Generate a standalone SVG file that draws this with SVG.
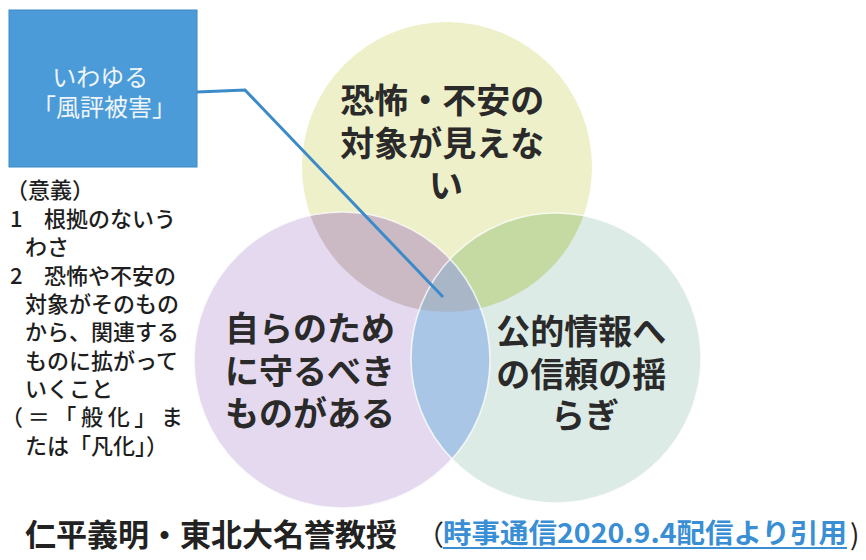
<svg xmlns="http://www.w3.org/2000/svg" width="866" height="560" viewBox="0 0 866 560">
<style>
.jp{font-family:"Noto Sans CJK JP","Noto Sans CJK SC",sans-serif;}
.lbl{font-family:"Noto Sans CJK JP","Noto Sans CJK SC",sans-serif;font-size:34px;font-weight:700;fill:#2a2a2a;}
.note{font-family:"Noto Sans CJK JP","Noto Sans CJK SC",sans-serif;font-size:22px;font-weight:500;fill:#1e1e1e;}
.edge{fill:none;stroke:#ffffff;stroke-width:1.6;stroke-opacity:0.75;}
</style>
<defs>
<clipPath id="cT"><circle cx="447" cy="167" r="145"/></clipPath>
<clipPath id="cL"><circle cx="342" cy="360" r="148"/></clipPath>
<clipPath id="cR"><circle cx="556" cy="358" r="145"/></clipPath>
</defs>
<rect width="866" height="560" fill="#ffffff"/>

<g id="node-fear">
<circle cx="447" cy="167" r="145" fill="#eef0c9"/>
</g>
<g id="node-protect">
<circle cx="342" cy="360" r="148" fill="#e4d9ee"/>
</g>
<g id="node-trust">
<circle cx="556" cy="358" r="145" fill="#dcebe5"/>
</g>
<g id="overlaps">
<g clip-path="url(#cT)"><circle cx="342" cy="360" r="148" fill="#cbb9c3"/></g>
<g clip-path="url(#cT)"><circle cx="556" cy="358" r="145" fill="#c5d9a2"/></g>
<g clip-path="url(#cL)"><circle cx="556" cy="358" r="145" fill="#a9c6e6"/></g>
<g clip-path="url(#cT)"><g clip-path="url(#cL)"><circle cx="556" cy="358" r="145" fill="#a9b6c8"/></g></g>
<circle class="edge" cx="342" cy="360" r="148"/>
<circle class="edge" cx="556" cy="358" r="145"/>
</g>

<g id="labels">
<text class="lbl" text-anchor="middle">
<tspan x="446" y="113">恐怖・不安の</tspan>
<tspan x="446" y="156">対象が見えな</tspan>
<tspan x="446" y="198">い</tspan>
</text>
<text class="lbl">
<tspan x="225" y="341">自らのため</tspan>
<tspan x="225" y="384">に守るべき</tspan>
<tspan x="225" y="426">ものがある</tspan>
</text>
<text class="lbl" text-anchor="middle">
<tspan x="585" y="344">公的情報へ</tspan>
<tspan x="585" y="387">の信頼の揺</tspan>
<tspan x="585" y="428">らぎ</tspan>
</text>
</g>

<g id="connectors">
<polyline points="197,92 245,90 443,297" fill="none" stroke="#3b8bc9" stroke-width="3" stroke-linejoin="miter"/>
</g>

<g id="node-box">
<rect x="9" y="10" width="188" height="157" fill="#4b9bd8" stroke="#3d88c6" stroke-width="1"/>
<text class="jp" font-size="24" fill="#eef5fb" text-anchor="middle">
<tspan x="103" y="86">いわゆる</tspan>
<tspan x="104" y="116">「風評被害」</tspan>
</text>
</g>

<g id="note-meaning">
<text class="note" x="6" y="198">（意義）</text>
<text class="note" x="10" y="227">1</text>
<text class="note" x="44" y="227">根拠のないう</text>
<text class="note" x="25" y="255">わさ</text>
<text class="note" x="10" y="284">2</text>
<text class="note" x="44" y="284">恐怖や不安の</text>
<text class="note" x="25" y="312">対象がそのもの</text>
<text class="note" x="25" y="340">から、関連する</text>
<text class="note" x="25" y="369">ものに拡がって</text>
<text class="note" x="25" y="397">いくこと</text>
<text class="note" x="1" y="425" textLength="182" lengthAdjust="spacing">（＝「般化」ま</text>
<text class="note" x="25" y="454">たは「凡化」）</text>
</g>

<g id="caption">
<text class="jp" x="25" y="546" font-size="31" font-weight="700" fill="#222222">仁平義明・東北大名誉教授</text>
<text class="jp" x="416" y="546" font-size="28" fill="#222222">（</text>
<text class="jp" x="443" y="543" font-size="27" font-weight="700" fill="#3a8fd4" textLength="404" lengthAdjust="spacingAndGlyphs">時事通信2020.9.4配信より引用</text>
<line x1="443" y1="548" x2="847" y2="548" stroke="#3a8fd4" stroke-width="2"/>
<text class="jp" x="850" y="545" font-size="28" fill="#222222">)</text>
</g>
</svg>
